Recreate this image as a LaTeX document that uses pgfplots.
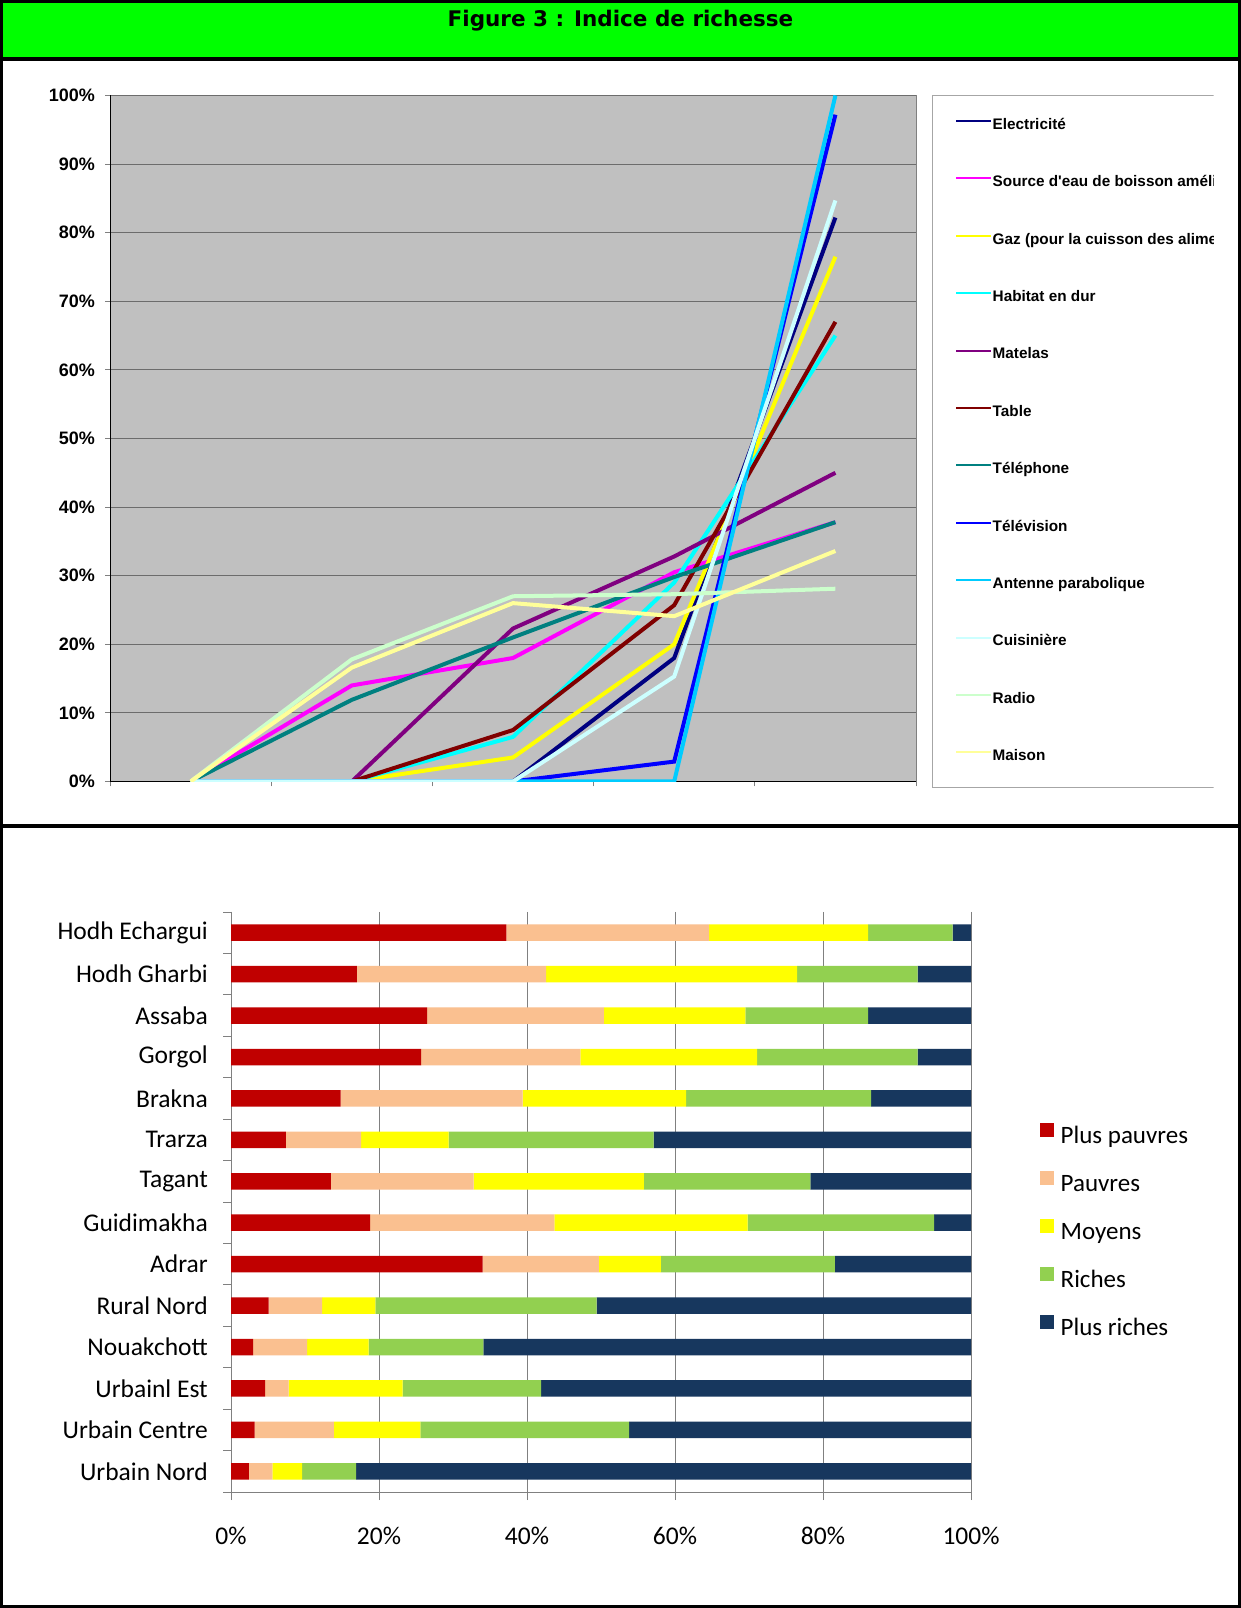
\documentclass[border=0pt]{standalone}
\usepackage{fontspec}
\setmainfont{Carlito}
\newfontfamily\lsans{Liberation Sans}
\newfontfamily\djv{DejaVu Sans}
\usepackage{pgfplots}
\usepackage{pgfplotstable}
\pgfplotsset{compat=1.18}

\definecolor{cElec}{HTML}{000080}
\definecolor{cSrc}{HTML}{FF00FF}
\definecolor{cGaz}{HTML}{FFFF00}
\definecolor{cHab}{HTML}{00FFFF}
\definecolor{cMat}{HTML}{800080}
\definecolor{cTab}{HTML}{800000}
\definecolor{cTel}{HTML}{008080}
\definecolor{cTv}{HTML}{0000FF}
\definecolor{cAnt}{HTML}{00CCFF}
\definecolor{cCui}{HTML}{CCFFFF}
\definecolor{cRad}{HTML}{CCFFCC}
\definecolor{cMai}{HTML}{FFFF99}
\definecolor{bgray}{HTML}{C0C0C0}
\definecolor{tgreen}{HTML}{00FF00}
\definecolor{q1}{HTML}{C00000}
\definecolor{q2}{HTML}{FAC090}
\definecolor{q3}{HTML}{FFFF00}
\definecolor{q4}{HTML}{92D050}
\definecolor{q5}{HTML}{17375E}

% Top chart: share of households owning each item, by wealth quintile (1..5)
\pgfplotstableread{
x elec src gaz hab mat tab tel tv ant cui rad mai
1 0    0    0    0    0    0    0    0    0   0    0    0
2 0    14.0 0    0    0    0    11.9 0    0   0    17.8 16.6
3 0    18.0 3.5  6.5  22.3 7.5  21.0 0    0   0    27.0 26.0
4 18.0 30.5 20.0 29.0 32.8 25.7 29.8 2.9  0   15.3 27.3 24.1
5 82.2 37.8 76.5 65.0 45.0 67.0 37.8 97.2 100 84.7 28.1 33.6
}\items

% Bottom chart: distribution by wealth quintile, per region
\pgfplotstableread{
y a b c d e
0 37.2 27.4 21.5 11.4 2.5
1 17.0 25.6 33.9 16.3 7.2
2 26.5 23.9 19.1 16.6 13.9
3 25.7 21.5 23.9 21.7 7.2
4 14.8 24.6 22.1 25.0 13.5
5 7.4 10.2 11.8 27.7 42.9
6 13.5 19.3 23.0 22.5 21.7
7 18.8 24.9 26.1 25.2 5.0
8 34.0 15.7 8.4 23.5 18.4
9 5.1 7.2 7.2 29.9 50.6
10 3.0 7.3 8.3 15.5 65.9
11 4.6 3.2 15.4 18.7 58.1
12 3.2 10.7 11.7 28.2 46.2
13 2.4 3.2 4.0 7.3 83.1
}\regions

\begin{document}
\begin{tikzpicture}[x=1pt,y=1pt]
\fill[white] (0,0) rectangle (1241,1608);
\fill[tgreen] (0,1549) rectangle (1241,1608);
\node[font=\djv\bfseries\fontsize{21.5}{26}\selectfont, anchor=base, inner sep=0pt] at (620.5,1581) {Figure 3 : Indice de richesse};

\begin{scope}
\clip (0,0) rectangle (1213.7,1608);
\begin{axis}[
  at={(110pt,826.5pt)}, anchor=south west,
  width=806pt, height=686pt, scale only axis,
  xmin=0.5, xmax=5.5, ymin=0, ymax=100,
  axis x line*=bottom, axis y line*=left,
  axis line style={black, line width=1pt},
  axis background/.style={fill=bgray, draw=gray, line width=1pt},
  xtick={0.5,1.5,2.5,3.5,4.5,5.5}, xticklabels={},
  ytick={0,10,20,30,40,50,60,70,80,90,100},
  yticklabels={0\%,10\%,20\%,30\%,40\%,50\%,60\%,70\%,80\%,90\%,100\%},
  tick align=outside, major tick length=5pt,
  tick style={gray, line width=0.8pt},
  ymajorgrids, major grid style={color=gray!85!black, line width=0.9pt},
  yticklabel style={font=\lsans\bfseries\fontsize{18}{20}\selectfont, anchor=east, inner sep=0pt, xshift=-10pt},
  every axis plot/.append style={line width=4pt, no markers},
  legend image code/.code={\draw[#1, line width=2pt] (0pt,4.5pt) -- (35pt,4.5pt);},
  legend cell align=left,
  legend style={at={(1.0195,1.001)}, anchor=north west, draw=gray!70, line width=1pt, fill=white,
    font=\lsans\bfseries\fontsize{15.3}{18}\selectfont,
    nodes={inner sep=0pt, text height=11pt, text depth=3.5pt},
    inner xsep=23pt, inner ysep=23pt, row sep=42.9pt, column sep=0.5pt},
]
\addplot[cElec] table[x=x,y=elec]{\items};
\addlegendentry{Electricité}
\addplot[cSrc] table[x=x,y=src]{\items};
\addlegendentry{Source d'eau de boisson améliorée}
\addplot[cGaz] table[x=x,y=gaz]{\items};
\addlegendentry{Gaz (pour la cuisson des aliments)}
\addplot[cHab] table[x=x,y=hab]{\items};
\addlegendentry{Habitat en dur}
\addplot[cMat] table[x=x,y=mat]{\items};
\addlegendentry{Matelas}
\addplot[cTab] table[x=x,y=tab]{\items};
\addlegendentry{Table}
\addplot[cTel] table[x=x,y=tel]{\items};
\addlegendentry{Téléphone}
\addplot[cTv] table[x=x,y=tv]{\items};
\addlegendentry{Télévision}
\addplot[cAnt] table[x=x,y=ant]{\items};
\addlegendentry{Antenne parabolique}
\addplot[cCui] table[x=x,y=cui]{\items};
\addlegendentry{Cuisinière}
\addplot[cRad] table[x=x,y=rad]{\items};
\addlegendentry{Radio}
\addplot[cMai] table[x=x,y=mai]{\items};
\addlegendentry{Maison}
\end{axis}
\end{scope}

\begin{axis}[
  at={(231pt,116pt)}, anchor=south west,
  width=740pt, height=580pt, scale only axis,
  xbar stacked, bar width=16.5pt,
  xmin=0, xmax=100, ymin=-0.5, ymax=13.5, y dir=reverse,
  axis x line*=bottom, axis y line*=left,
  axis line style={gray, line width=1pt},
  xtick={0,20,40,60,80,100},
  xticklabels={0\%,20\%,40\%,60\%,80\%,100\%},
  ytick={-0.5,0.5,...,13.5}, yticklabels={},
  extra y ticks={0,...,13},
  extra y tick labels={Hodh Echargui,Hodh Gharbi,Assaba,Gorgol,Brakna,Trarza,Tagant,Guidimakha,Adrar,Rural Nord,Nouakchott,Urbainl Est,Urbain Centre,Urbain Nord},
  extra y tick style={tick style={draw=none}},
  tick align=outside, major tick length=8pt,
  tick style={gray, line width=0.8pt},
  xmajorgrids, major grid style={color=gray, line width=0.8pt},
  xticklabel style={font=\fontsize{25.5}{30}\selectfont, anchor=center, inner sep=0pt, yshift=-36pt},
  yticklabel style={font=\fontsize{25.5}{30}\selectfont, anchor=east, inner sep=0pt, xshift=-15pt},
  every axis plot/.append style={draw=none},
  legend image code/.code={\fill[#1] (0pt,1.5pt) rectangle (13.5pt,15pt);},
  legend cell align=left,
  legend style={at={(1.0932,0.636)}, anchor=north west, draw=none, fill=none,
    font=\fontsize{25}{30}\selectfont,
    nodes={inner sep=0pt, text height=17pt, text depth=6pt},
    inner sep=0pt, row sep=21.5pt, column sep=7pt},
]
\addplot[fill=q1] table[x=a,y=y]{\regions};
\addlegendentry{Plus pauvres}
\addplot[fill=q2] table[x=b,y=y]{\regions};
\addlegendentry{Pauvres}
\addplot[fill=q3] table[x=c,y=y]{\regions};
\addlegendentry{Moyens}
\addplot[fill=q4] table[x=d,y=y]{\regions};
\addlegendentry{Riches}
\addplot[fill=q5] table[x=e,y=y]{\regions};
\addlegendentry{Plus riches}
\end{axis}

\draw[line width=4pt] (0,1549) -- (1241,1549);
\draw[line width=4pt] (0,782) -- (1241,782);
\draw[line width=3pt] (1.5,1.5) rectangle (1239.5,1606.5);
\pgfresetboundingbox
\useasboundingbox (0,0) rectangle (1241,1608);
\end{tikzpicture}
\end{document}
